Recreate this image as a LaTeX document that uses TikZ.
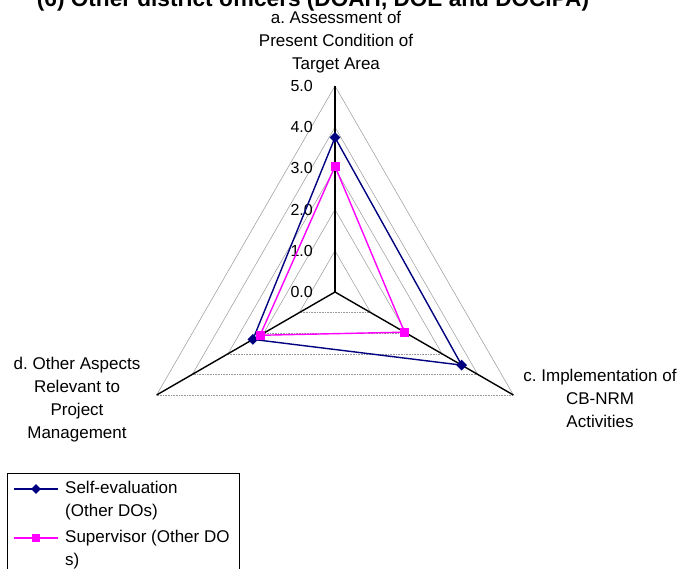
\documentclass[tikz,border=0pt]{standalone}
\usepackage{fontspec}
\setmainfont{Liberation Sans}
\usetikzlibrary{shapes.geometric}
\definecolor{navyc}{RGB}{0,0,128}
\definecolor{magc}{RGB}{255,0,255}
\frenchspacing
\begin{document}
\begin{tikzpicture}[x=1pt,y=-1pt,
  gridl/.style={gray!80, line width=0.5pt},
  gridb/.style={gray!80, line width=0.6pt, densely dotted},
  axisl/.style={black, line width=1.4pt},
  selfl/.style={navyc, line width=1.4pt},
  supl/.style={magc, line width=1.4pt},
  dmark/.style={diamond, fill=navyc, inner sep=0pt, minimum size=11pt},
  smark/.style={rectangle, fill=magc, inner sep=0pt, minimum size=9pt},
  lab/.style={font=\fontsize{17}{23}\selectfont\frenchspacing, align=center, inner sep=0pt},
  tick/.style={font=\fontsize{16}{16}\selectfont, inner sep=0pt, anchor=east}]
\useasboundingbox (0,0) rectangle (682,568);
\clip (0,0) rectangle (682,568);
\fill[white] (0,0) rectangle (682,568);
\coordinate (O) at (335,292);
\foreach \k in {1,...,5}{
  \coordinate (a\k) at (335,{292-41.2*\k});
  \coordinate (c\k) at ({335+35.68*\k},{292+20.6*\k});
  \coordinate (d\k) at ({335-35.68*\k},{292+20.6*\k});
}
% grid
\foreach \k in {1,...,5}{
  \draw[gridl] (d\k) -- (a\k) -- (c\k);
  \draw[gridb] (d\k) -- (c\k);
}
% axes
\draw[axisl] (O) -- (a5);
\draw[axisl] (O) -- (c5);
\draw[axisl] (O) -- (d5);
% tick labels
\node[tick] (t0) at (313,292) {0.0};
\foreach \k in {1,...,5}{
  \node[tick] (t\k) at ([xshift=-22pt]a\k) {\k.0};
}
% data
\coordinate (sa) at (335,{292-41.2*3.75});
\coordinate (sc) at ({335+35.68*3.55},{292+20.6*3.55});
\coordinate (sd) at ({335-35.68*2.3},{292+20.6*2.3});
\coordinate (pa) at (335,{292-41.2*3.05});
\coordinate (pc) at ({335+35.68*1.95},{292+20.6*1.95});
\coordinate (pd) at ({335-35.68*2.1},{292+20.6*2.1});
\draw[selfl] (sa) -- (sc) -- (sd) -- cycle;
\draw[supl] (pa) -- (pc) -- (pd) -- cycle;
\node[dmark] (msa) at (sa) {};
\node[dmark] (msc) at (sc) {};
\node[dmark] (msd) at (sd) {};
\node[smark] (mpa) at (pa) {};
\node[smark] (mpc) at (pc) {};
\node[smark] (mpd) at (pd) {};
% axis labels
\node[lab] (la) at (336,42.5) {a. Assessment of\\Present Condition of\\Target Area};
\node[lab] (ld) at (77,400) {d. Other Aspects\\Relevant to\\Project\\Management};
\node[lab] (lc) at (600,398.5) {c. Implementation of\\CB-NRM\\Activities};
% title
\node[font=\bfseries\fontsize{22.6}{26}\selectfont, anchor=base, inner sep=0pt] (title) at (313,6.5) {(6) Other district officers (DOAH, DOE and DOCIPA)};
% legend
\draw[black, line width=0.8pt] (7,473) rectangle (239,585);
\coordinate (l1a) at (14,489);
\coordinate (l1b) at (58,489);
\draw[selfl] (l1a) -- (l1b);
\node[dmark, minimum size=10pt] (lm1) at (36,489) {};
\node[lab, align=left, anchor=west] (lt1) at (65,500.5) {Self-evaluation\\(Other DOs)};
\coordinate (l2a) at (14,538);
\coordinate (l2b) at (58,538);
\draw[supl] (l2a) -- (l2b);
\node[smark, minimum size=8pt] (lm2) at (36,538) {};
\node[lab, align=left, anchor=west] (lt2) at (65,549.5) {Supervisor (Other DO\\s)};
\end{tikzpicture}
\end{document}
